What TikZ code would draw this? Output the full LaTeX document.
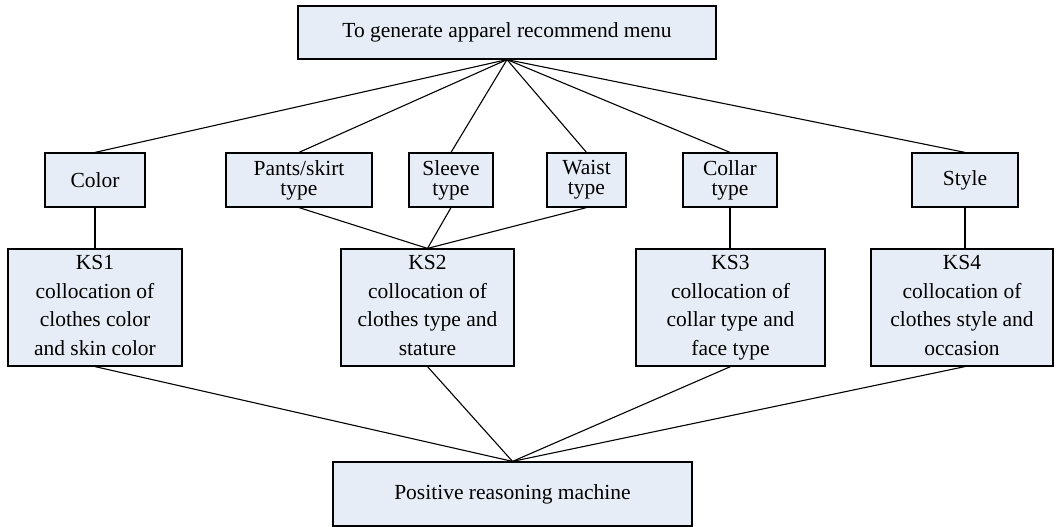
\documentclass[tikz,border=0pt]{standalone}
\usepackage{fontspec}
\setmainfont{Liberation Serif}
\definecolor{boxfill}{RGB}{231,237,246}
\begin{document}
\begin{tikzpicture}[x=1pt,y=-1pt,
  box/.style={draw=black, line width=1.2pt, fill=boxfill, inner sep=0pt, align=center,
    font=\fontsize{21.5}{20}\selectfont},
  ksbox/.style={box, font=\fontsize{21.5}{28.6}\selectfont},
  link/.style={draw=black, line width=1.1pt}]
\useasboundingbox (0,0) rectangle (1060,527);
\node[box, minimum width=418pt, minimum height=53pt] (top) at (507,32.5) {To generate apparel recommend menu};
\node[box, minimum width=100pt, minimum height=54pt] (color) at (95,180) {Color};
\node[box, minimum width=146pt, minimum height=54pt] (pants) at (299,180) {Pants/skirt\\type};
\node[box, minimum width=84pt, minimum height=54pt] (sleeve) at (451,180) {Sleeve\\type};
\node[box, minimum width=79pt, minimum height=54pt] (waist) at (586.5,180) {Waist\\type};
\node[box, minimum width=94pt, minimum height=54pt] (collar) at (730,180) {Collar\\type};
\node[box, minimum width=106pt, minimum height=54pt] (style) at (965,180) {Style};
\node[ksbox, minimum width=174pt, minimum height=117pt] (ks1) at (95,307.5) {KS1\\collocation of\\clothes color\\and skin color\vphantom{y}};
\node[ksbox, minimum width=173pt, minimum height=117pt] (ks2) at (427.5,307.5) {KS2\\collocation of\\clothes type and\\stature\vphantom{y}};
\node[ksbox, minimum width=189pt, minimum height=117pt] (ks3) at (730.5,307.5) {KS3\\collocation of\\collar type and\\face type};
\node[ksbox, minimum width=182pt, minimum height=117pt] (ks4) at (962,307.5) {KS4\\collocation of\\clothes style and\\occasion\vphantom{y}};
\node[box, minimum width=359pt, minimum height=64pt] (prm) at (512.5,494) {Positive reasoning machine};
\coordinate (apex) at (top.south);
\coordinate (base) at (prm.north);
\foreach \n in {color,pants,sleeve,waist,collar,style}
  \draw[link] (apex) -- (\n.north);
\draw[link] (color.south) -- (ks1.north);
\draw[link] (pants.south) -- (ks2.north);
\draw[link] (sleeve.south) -- (ks2.north);
\draw[link] (waist.south) -- (ks2.north);
\draw[link] (collar.south) -- (collar.south |- ks3.north);
\draw[link] (style.south) -- (style.south |- ks4.north);
\draw[link] (ks1.south) -- (base);
\draw[link] (ks2.south) -- (base);
\draw[link] (ks3.south) -- (base);
\draw[link] (style.south |- ks4.south) -- (base);
\end{tikzpicture}
\end{document}
